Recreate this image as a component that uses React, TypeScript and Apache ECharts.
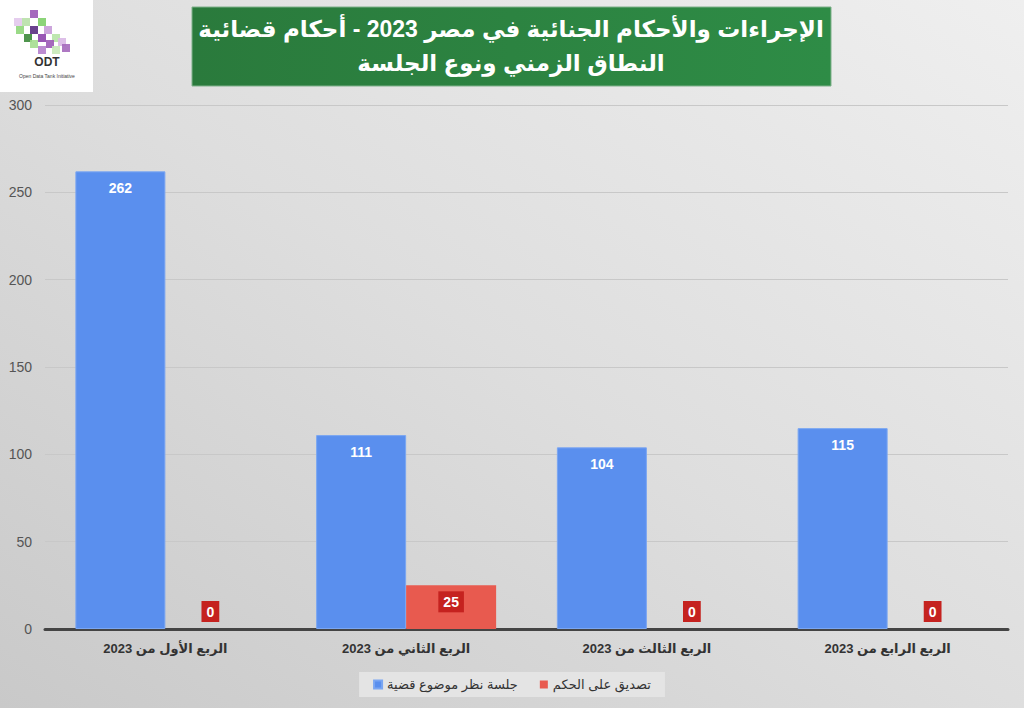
import React, { useEffect, useRef } from "react";
import * as echarts from "echarts";

const categories = [
  "الربع الأول من 2023",
  "الربع الثاني من 2023",
  "الربع الثالث من 2023",
  "الربع الرابع من 2023",
];
const seriesNames = ["جلسة نظر موضوع قضية", "تصديق على الحكم"];
const hearingValues = [262, 111, 104, 115];
const ratifyValues = [0, 25, 0, 0];
const titleLines = [
  "الإجراءات والأحكام الجنائية في مصر 2023 - أحكام قضائية",
  "النطاق الزمني ونوع الجلسة",
];

const FONT = "'Liberation Sans', 'DejaVu Sans', Arial, sans-serif";

export default function App() {
  const ref = useRef<HTMLDivElement>(null);
  useEffect(() => {
    document.body.style.margin = "0";
    const chart = echarts.init(ref.current!, null, { renderer: "svg" });
    const cubes: any[] = [];
    const cubeSpec: [number, number, string][] = [
      [30, 14, "#9b59b6"], [22, 22, "#b8e0a8"], [38, 22, "#7fcf6a"], [16, 30, "#8fd67a"],
      [30, 30, "#5a2d82"], [44, 30, "#c79bd8"], [24, 38, "#3c8a3a"], [38, 38, "#8e44ad"],
      [52, 38, "#b7e4a6"], [30, 44, "#a5dd8f"], [46, 44, "#9b59b6"], [58, 42, "#d9b8e6"],
      [38, 50, "#b580cc"], [52, 50, "#c7e9b8"], [62, 48, "#a569bd"], [14, 22, "#e2c8ec"],
    ];
    cubeSpec.forEach(([x, y, c]) => {
      cubes.push({
        type: "rect",
        shape: { x: x, y: y - 4, width: 8, height: 8 },
        style: { fill: c, opacity: 0.9 },
      });
    });
    chart.setOption({
      animation: false,
      backgroundColor: {
        type: "linear", x: 1, y: 0, x2: 0, y2: 1,
        colorStops: [
          { offset: 0, color: "#efefef" },
          { offset: 0.5, color: "#dedede" },
          { offset: 1, color: "#c9c9c9" },
        ],
      },
      textStyle: { fontFamily: FONT },
      grid: { left: 45, right: 16, top: 105, bottom: 79 },
      legend: {
        data: seriesNames,
        top: 672,
        left: "center",
        itemWidth: 8,
        itemHeight: 8,
        itemGap: 22,
        icon: "rect",
        backgroundColor: "#e4e4e4",
        padding: [6, 14],
        textStyle: { fontSize: 13, color: "#333", fontFamily: FONT },
      },
      xAxis: {
        type: "category",
        data: categories,
        axisTick: { show: false },
        axisLine: { lineStyle: { color: "#444", width: 3 } },
        axisLabel: { fontSize: 13, fontWeight: "bold", color: "#333", margin: 13, fontFamily: FONT },
      },
      yAxis: {
        type: "value",
        min: 0,
        max: 300,
        interval: 50,
        axisLabel: { fontSize: 14, color: "#555", margin: 13, fontFamily: FONT },
        splitLine: { lineStyle: { color: "#c8c8c8", width: 1 } },
      },
      series: [
        {
          name: seriesNames[0],
          type: "bar",
          data: hearingValues,
          barWidth: 90,
          barGap: "0%",
          itemStyle: { color: "#5a8fee", borderColor: "#7aa6f2", borderWidth: 1 },
          label: {
            show: true,
            position: "insideTop",
            distance: 10,
            color: "#fff",
            fontWeight: "bold",
            fontSize: 14,
            fontFamily: FONT,
          },
        },
        {
          name: seriesNames[1],
          type: "bar",
          data: ratifyValues.map((v) => ({
            value: v,
            label: v === 0 ? { position: "top", distance: 7 } : { position: "insideTop", distance: 6 },
          })),
          barWidth: 90,
          itemStyle: { color: "#e85a4f", borderWidth: 0 },
          label: {
            show: true,
            color: "#fff",
            fontWeight: "bold",
            fontSize: 14,
            backgroundColor: "#c5221f",
            padding: [4, 5, 3, 5],
            fontFamily: FONT,
          },
        },
      ],
      graphic: [
        {
          type: "rect",
          shape: { x: 0, y: 0, width: 93, height: 92 },
          style: { fill: "#ffffff" },
        },
        { type: "group", children: cubes },
        {
          type: "text",
          x: 47, y: 62,
          style: { text: "ODT", fill: "#333", font: "bold 12px " + FONT, textAlign: "center", textVerticalAlign: "middle" },
        },
        {
          type: "text",
          x: 47, y: 76,
          style: { text: "Open Data Tank Initiative", fill: "#444", font: "5px " + FONT, textAlign: "center", textVerticalAlign: "middle" },
        },
        {
          type: "rect",
          shape: { x: 192, y: 7, width: 639, height: 79 },
          style: {
            fill: {
              type: "linear", x: 0, y: 0, x2: 1, y2: 0,
              colorStops: [
                { offset: 0, color: "#2a7a3c" },
                { offset: 1, color: "#2e8c46" },
              ],
            },
            stroke: "#7fb08a",
            lineWidth: 1,
          },
        },
        {
          type: "text",
          x: 511, y: 29,
          style: { text: titleLines[0], fill: "#fff", font: "bold 23px " + FONT, textAlign: "center", textVerticalAlign: "middle" },
        },
        {
          type: "text",
          x: 511, y: 63,
          style: { text: titleLines[1], fill: "#fff", font: "bold 23px " + FONT, textAlign: "center", textVerticalAlign: "middle" },
        },
      ],
    });
    return () => chart.dispose();
  }, []);
  return <div ref={ref} style={{ width: 1024, height: 708 }} />;
}
